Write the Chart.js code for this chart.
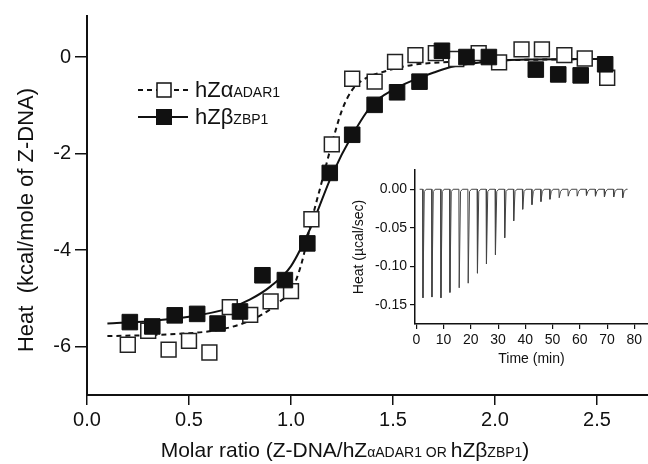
<!DOCTYPE html>
<html>
<head>
<meta charset="utf-8">
<script src="https://cdn.jsdelivr.net/npm/chart.js@4.4.1/dist/chart.umd.min.js"></script>
<style>
  html, body { margin: 0; padding: 0; background: #fff; }
  #wrap { position: relative; width: 648px; height: 464px; overflow: hidden; }
  #mainChart { position: absolute; left: 0; top: 0; }
  #insetChart { position: absolute; left: 340px; top: 150px; }
</style>
</head>
<body>
<div id="wrap">
  <canvas id="mainChart" width="648" height="464" style="width:648px;height:464px"></canvas>
  <canvas id="insetChart" width="308" height="230" style="width:308px;height:230px"></canvas>
</div>
<script>
/* ---- data ---- */
// hZalpha ADAR1 (open squares)
const alphaX = [0.20, 0.30, 0.40, 0.50, 0.60, 0.70, 0.80, 0.90, 1.00, 1.10, 1.20, 1.30,
                1.41, 1.51, 1.61, 1.71, 1.81, 1.92, 2.02, 2.13, 2.23, 2.34, 2.44, 2.55];
const alphaY = [-5.96, -5.67, -6.06, -5.88, -6.12, -5.18, -5.34, -5.06, -4.85, -3.36, -1.81, -0.45,
                -0.51, -0.10, 0.04, 0.08, -0.04, 0.08, -0.11, 0.16, 0.16, 0.04, -0.03, -0.43];
// hZbeta ZBP1 (filled squares)
const betaX = [0.21, 0.32, 0.43, 0.54, 0.64, 0.75, 0.86, 0.97, 1.08, 1.19, 1.30,
               1.41, 1.52, 1.63, 1.74, 1.86, 1.97, 2.20, 2.31, 2.42, 2.54];
const betaY = [-5.49, -5.58, -5.35, -5.32, -5.52, -5.27, -4.52, -4.62, -3.86, -2.40, -1.61,
               -0.99, -0.73, -0.51, 0.13, 0.00, 0.00, -0.26, -0.36, -0.38, -0.15];
// fitted curves
const fitAX = [0.10, 0.30, 0.50, 0.60, 0.70, 0.80, 0.90, 0.95, 1.00, 1.05, 1.10, 1.15, 1.20,
               1.25, 1.30, 1.35, 1.40, 1.50, 1.60, 1.70, 2.00, 2.55];
const fitAY = [-5.78, -5.76, -5.72, -5.68, -5.60, -5.46, -5.22, -5.05, -4.85, -4.30, -3.40, -2.60, -1.80,
               -1.10, -0.68, -0.48, -0.38, -0.25, -0.16, -0.12, -0.07, -0.04];
const fitBX = [0.10, 0.30, 0.50, 0.70, 0.80, 0.90, 1.00, 1.10, 1.20, 1.30, 1.40, 1.50,
               1.60, 1.70, 1.80, 2.00, 2.20, 2.55];
const fitBY = [-5.52, -5.47, -5.38, -5.20, -5.02, -4.75, -4.33, -3.50, -2.45, -1.62, -0.98, -0.68,
               -0.48, -0.32, -0.19, -0.08, -0.05, -0.04];

const xTicks = [0, 0.5, 1.0, 1.5, 2.0, 2.5];
const yTicks = [-6, -4, -2, 0];

// inset: raw ITC trace (injection time in min, peak depth in ucal/sec)
const injTimes = [2.3, 5.6, 8.9, 12.2, 15.6, 18.9, 22.3, 25.6, 28.9, 32.3, 35.6, 38.9,
                  42.3, 45.6, 48.9, 52.3, 55.6, 58.9, 62.3, 65.6, 68.9, 72.3, 75.6];
const injPeaks = [-0.141, -0.140, -0.141, -0.134, -0.128, -0.122, -0.109, -0.097, -0.085, -0.063, -0.041, -0.026,
                  -0.020, -0.016, -0.013, -0.011, -0.009, -0.009, -0.008, -0.009, -0.010, -0.010, -0.011];
const traceStart = 1.2;
const traceEnd = 77.5;
const insetXTicks = [0, 10, 20, 30, 40, 50, 60, 70, 80];
const insetYTicks = [-0.15, -0.10, -0.05, 0.00];

/* ---- helpers ---- */
const FONT = "'Liberation Sans', Arial, Helvetica, sans-serif";
const INK = '#111';
const toXY = (xs, ys) => xs.map((x, i) => ({x: x, y: ys[i]}));

// text with mixed sizes on one baseline
function richWidth(ctx, parts) {
  let w = 0;
  parts.forEach(p => { ctx.font = p[1] + 'px ' + FONT; w += ctx.measureText(p[0]).width; });
  return w;
}
function drawRich(ctx, parts, x, y) {
  ctx.textAlign = 'left';
  ctx.textBaseline = 'alphabetic';
  parts.forEach(p => {
    ctx.font = p[1] + 'px ' + FONT;
    ctx.fillText(p[0], x, y);
    x += ctx.measureText(p[0]).width;
  });
}

const annotations = {
  id: 'annotations',
  afterDraw(chart) {
    const ctx = chart.ctx;
    ctx.save();
    ctx.fillStyle = INK;

    // y title
    ctx.save();
    ctx.translate(27, 220);
    ctx.rotate(-Math.PI / 2);
    ctx.font = '22px ' + FONT;
    ctx.textAlign = 'center';
    ctx.textBaseline = 'middle';
    ctx.fillText('Heat  (kcal/mole of Z-DNA)', 0, 0);
    ctx.restore();

    // x title
    const xt = [['Molar ratio (Z-DNA/hZ', 21], ['\u03b1ADAR1 OR ', 14], ['hZ\u03b2', 21], ['ZBP1', 14], [')', 21]];
    const w = richWidth(ctx, xt);
    drawRich(ctx, xt, 345 - w / 2, 457);

    // legend
    ctx.strokeStyle = INK;
    ctx.lineWidth = 1.8;
    ctx.setLineDash([5, 4]);
    ctx.beginPath(); ctx.moveTo(138, 90); ctx.lineTo(188, 90); ctx.stroke();
    ctx.setLineDash([]);
    ctx.beginPath(); ctx.moveTo(138, 117); ctx.lineTo(188, 117); ctx.stroke();
    ctx.fillStyle = '#fff';
    ctx.fillRect(157, 83, 14, 14);
    ctx.lineWidth = 1.5;
    ctx.strokeRect(157, 83, 14, 14);
    ctx.fillStyle = INK;
    ctx.fillRect(156, 109, 16, 16);
    drawRich(ctx, [['hZ\u03b1', 22], ['ADAR1', 14]], 195, 97);
    drawRich(ctx, [['hZ\u03b2', 22], ['ZBP1', 14]], 195, 124);
    ctx.restore();
  }
};

/* ---- main chart ---- */
new Chart(document.getElementById('mainChart'), {
  type: 'scatter',
  data: {
    datasets: [
      {
        label: 'hZ\u03b2 ZBP1',
        data: toXY(betaX, betaY),
        pointStyle: 'rect',
        pointRadius: 11,
        backgroundColor: INK,
        borderColor: INK,
        borderWidth: 1,
        order: 0
      },
      {
        label: 'hZ\u03b1 ADAR1',
        data: toXY(alphaX, alphaY),
        pointStyle: 'rect',
        pointRadius: 10.5,
        backgroundColor: '#fff',
        borderColor: '#222',
        borderWidth: 1.5,
        order: 1
      },
      {
        label: 'hZ\u03b1 fit',
        data: toXY(fitAX, fitAY),
        showLine: true,
        pointRadius: 0,
        borderColor: INK,
        borderWidth: 2,
        borderDash: [5, 4],
        cubicInterpolationMode: 'monotone',
        order: 2
      },
      {
        label: 'hZ\u03b2 fit',
        data: toXY(fitBX, fitBY),
        showLine: true,
        pointRadius: 0,
        borderColor: INK,
        borderWidth: 2,
        cubicInterpolationMode: 'monotone',
        order: 3
      }
    ]
  },
  options: {
    responsive: false,
    animation: false,
    layout: {autoPadding: false, padding: {top: 15, right: 0, left: 0, bottom: 0}},
    plugins: {legend: {display: false}, tooltip: {enabled: false}},
    scales: {
      x: {
        type: 'linear',
        min: 0,
        max: 2.75,
        afterFit: s => { s.height = 69; },
        afterBuildTicks: s => { s.ticks = xTicks.map(v => ({value: v})); },
        ticks: {
          color: INK,
          padding: 3,
          font: {family: FONT, size: 20},
          callback: v => v.toFixed(1)
        },
        grid: {display: true, drawOnChartArea: false, drawTicks: true, tickLength: 10, color: INK, lineWidth: 1.5},
        border: {display: true, color: INK, width: 2}
      },
      y: {
        min: -7,
        max: 0.85,
        afterFit: s => { s.width = 87; },
        afterBuildTicks: s => { s.ticks = yTicks.map(v => ({value: v})); },
        ticks: {
          color: INK,
          padding: 4,
          font: {family: FONT, size: 20}
        },
        grid: {display: true, drawOnChartArea: false, drawTicks: true, tickLength: 12, color: INK, lineWidth: 1.5},
        border: {display: true, color: INK, width: 2}
      }
    }
  },
  plugins: [annotations]
});

/* ---- inset: raw injection trace ---- */
const trace = [{x: traceStart, y: 0}];
injTimes.forEach((t, i) => {
  trace.push({x: t, y: 0}, {x: t + 0.12, y: injPeaks[i]}, {x: t + 0.6, y: -0.003}, {x: t + 1.3, y: 0});
});
trace.push({x: traceEnd, y: 0});

new Chart(document.getElementById('insetChart'), {
  type: 'scatter',
  data: {
    datasets: [{
      label: 'raw heat',
      data: trace,
      showLine: true,
      pointRadius: 0,
      borderColor: '#444',
      borderWidth: 1
    }]
  },
  options: {
    responsive: false,
    animation: false,
    layout: {autoPadding: false, padding: {top: 20, right: 0, left: 0, bottom: 0}},
    plugins: {legend: {display: false}, tooltip: {enabled: false}},
    scales: {
      x: {
        type: 'linear',
        min: -0.5,
        max: 85,
        afterFit: s => { s.height = 56; },
        afterBuildTicks: s => { s.ticks = insetXTicks.map(v => ({value: v})); },
        ticks: {color: INK, padding: 3, font: {family: FONT, size: 14}},
        title: {display: true, text: 'Time (min)', color: INK, font: {family: FONT, size: 14}, padding: {top: 0, bottom: 12}},
        grid: {display: true, drawOnChartArea: false, drawTicks: true, tickLength: 5, color: INK, lineWidth: 1.2},
        border: {display: true, color: INK, width: 1.5}
      },
      y: {
        min: -0.175,
        max: 0.025,
        afterFit: s => { s.width = 75; },
        afterBuildTicks: s => { s.ticks = insetYTicks.map(v => ({value: v})); },
        ticks: {color: INK, padding: 3, font: {family: FONT, size: 14}, callback: v => v.toFixed(2)},
        title: {display: true, text: 'Heat (\u00b5cal/sec)', color: INK, font: {family: FONT, size: 14}, padding: {top: 11, bottom: 0}},
        grid: {display: true, drawOnChartArea: false, drawTicks: true, tickLength: 5, color: INK, lineWidth: 1.2},
        border: {display: true, color: INK, width: 1.5}
      }
    }
  }
});
</script>
</body>
</html>
